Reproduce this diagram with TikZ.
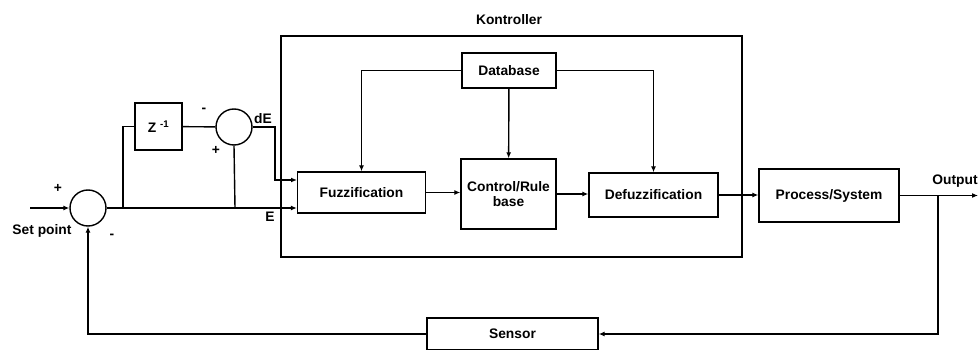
\documentclass[tikz,border=0pt]{standalone}
\usepackage{fontspec}
\setmainfont{Liberation Sans}
\usetikzlibrary{arrows.meta}
\usetikzlibrary{positioning}

\begin{document}
\begin{tikzpicture}[x=1pt, y=-1pt, line width=1.4pt,
        font=\fontsize{13.8}{15}\selectfont\bfseries,
        >={Latex[length=6pt,width=5pt]},
        block/.style={draw, rectangle, inner sep=0pt, align=center},
        junction/.style={draw, circle, minimum size=36pt, inner sep=0pt}]
        \useasboundingbox (0, 0) rectangle (980, 350);

        % controller frame
        \draw (511.5, 146.5) node[block, minimum width=461pt, minimum height=221pt] (K) {};
        \draw (509, 20) node (Klabel) {Kontroller};

        \draw (88, 208) node[junction] (s1) {};
        \draw (158.5, 126.5) node[block, minimum width=47pt, minimum height=47pt] (z) {Z \textsuperscript{-1}};
        \draw (234, 127) node[junction] (s2) {};

        \draw (509, 70.5) node[block, minimum width=94pt, minimum height=35pt] (db) {Database};
        \draw (361.5, 192.5) node[block, minimum width=128pt, minimum height=41pt] (fz) {Fuzzification};
        \draw (508.5, 194) node[block, minimum width=95pt, minimum height=70pt] (rb) {Control/Rule\\base};
        \draw (653.5, 195) node[block, minimum width=129pt, minimum height=44pt] (dfz) {Defuzzification};
        \draw (829, 195.5) node[block, minimum width=140pt, minimum height=53pt] (ps) {Process/System};
        \draw (512.5, 334) node[block, minimum width=171pt, minimum height=32pt] (sn) {Sensor};

        % branch points and free ends
        \coordinate (in) at (30, 208);
        \coordinate (b1) at (123, 208);
        \coordinate (b2) at (235, 208);
        \coordinate (dEturn) at (275, 127);
        \coordinate (dEin) at (297, 180);
        \coordinate (b3) at (938, 195.5);
        \coordinate (out) at (978, 195.5);

        % signs and signal names
        \draw (58, 188) node {+};
        \draw (112, 236) node {-};
        \draw (42, 231) node {Set point};
        \draw (204, 110) node {-};
        \draw (216, 150) node {+};
        \draw (263, 119) node {dE};
        \draw (270, 217) node {E};
        \draw (955, 181) node {Output};

        % error and its difference
        \draw[->] (in) -- (s1);
        \draw[->] (s1) -- (s1 -| fz.west);
        \draw (b1) |- (z.west);
        \draw (z) -- (s2);
        \draw (b2) -- (s2.south);
        \draw[->] (s2.east) -- (dEturn) |- (dEin);

        % inside the controller
        \draw[->] (db.west) -| (fz.north);
        \draw[->] (db.east) -| (dfz.north);
        \draw[->] (db) -- (rb);
        \draw[->] (fz.east) -- (fz.east -| rb.west);
        \draw[->] (rb.east) -- (rb.east -| dfz.west);

        % plant and feedback
        \draw[->] (dfz.east) -- (dfz.east -| ps.west);
        \draw[->] (ps.east) -- (out);
        \draw[->] (b3) |- (sn.east);
        \draw[->] (sn.west) -| (s1.south);
    \end{tikzpicture}
\end{document}
